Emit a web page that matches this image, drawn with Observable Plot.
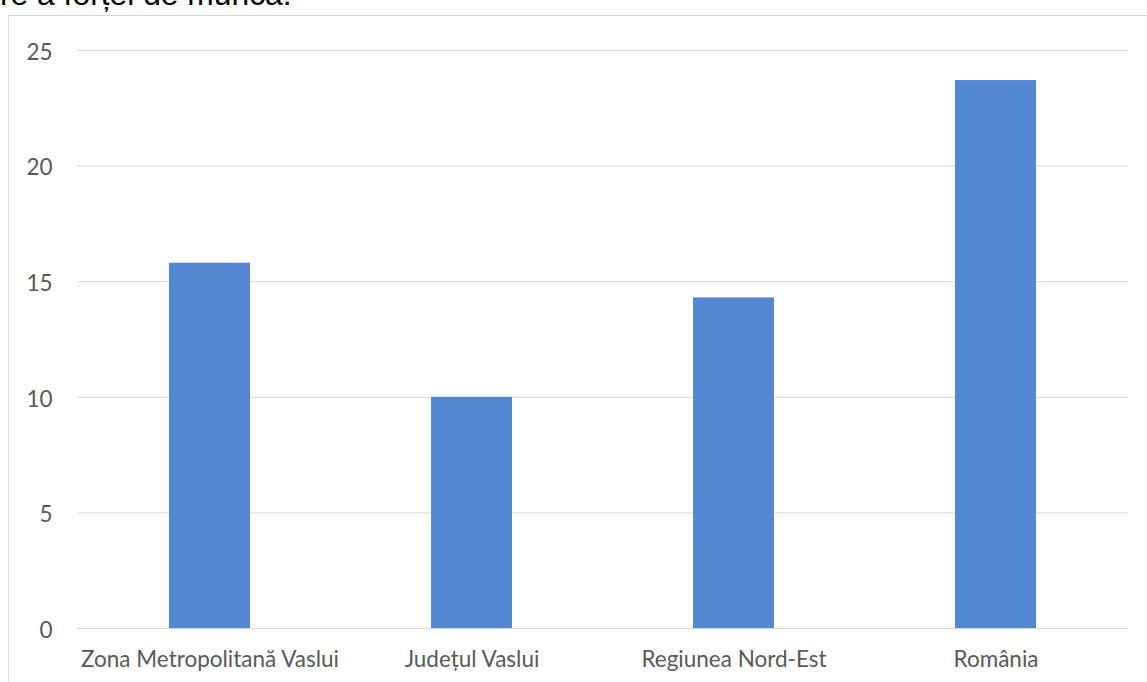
<!DOCTYPE html>
<html>
<head>
<meta charset="utf-8">
<script src="https://cdn.jsdelivr.net/npm/d3@7"></script>
<script src="https://cdn.jsdelivr.net/npm/@observablehq/plot@0.6"></script>
<style>
  html, body { margin: 0; padding: 0; background: #fff; overflow: hidden; width: 1147px; height: 682px; }
  #wrap { position: relative; width: 1147px; height: 682px; overflow: hidden; }
  #frame { position: absolute; left: 8px; top: 15px; width: 1200px; height: 700px; border: 1px solid #d9d9d9; box-sizing: border-box; }
  #title { position: absolute; left: 0px; top: -21px; font-family: "Liberation Sans", Arial, sans-serif; font-size: 31.8px; line-height: 31px; color: #000; white-space: nowrap; }
  #chart { position: absolute; left: 0; top: 0; }
  #chart svg text { font-size: 22.5px; font-family: Lato, "Open Sans", sans-serif; fill: #595959; }
</style>
</head>
<body>
<div id="wrap">
  <div id="frame"></div>
  <div id="title">re a forței de muncă.</div>
  <div id="chart"></div>
</div>
<script>
const categories = ["Zona Metropolitană Vaslui", "Județul Vaslui", "Regiunea Nord-Est", "România"];
const values = [15.8, 10.0, 14.3, 23.7];
const yTicks = [0, 5, 10, 15, 20, 25];

const data = categories.map((c, i) => ({category: c, value: values[i]}));

const chart = Plot.plot({
  width: 1147,
  height: 682,
  marginTop: 50,
  marginBottom: 54,
  marginLeft: 77,
  marginRight: 19,
  style: {background: "transparent"},
  x: {domain: categories, paddingInner: 0.69, paddingOuter: 0.345, label: null},
  y: {domain: [0, 25], label: null},
  marks: [
    Plot.gridY(yTicks, {stroke: "#d9d9d9", strokeOpacity: 1, strokeWidth: 1}),
    Plot.barY(data, {x: "category", y: "value", fill: "#5588d3"}),
    Plot.ruleY([0], {stroke: "#d9d9d9", strokeWidth: 1}),
    Plot.axisY(yTicks, {tickSize: 0, tickPadding: 25, dy: 2, label: null}),
    Plot.axisX({tickSize: 0, tickPadding: 23, label: null})
  ]
});
document.getElementById("chart").appendChild(chart);
</script>
</body>
</html>
